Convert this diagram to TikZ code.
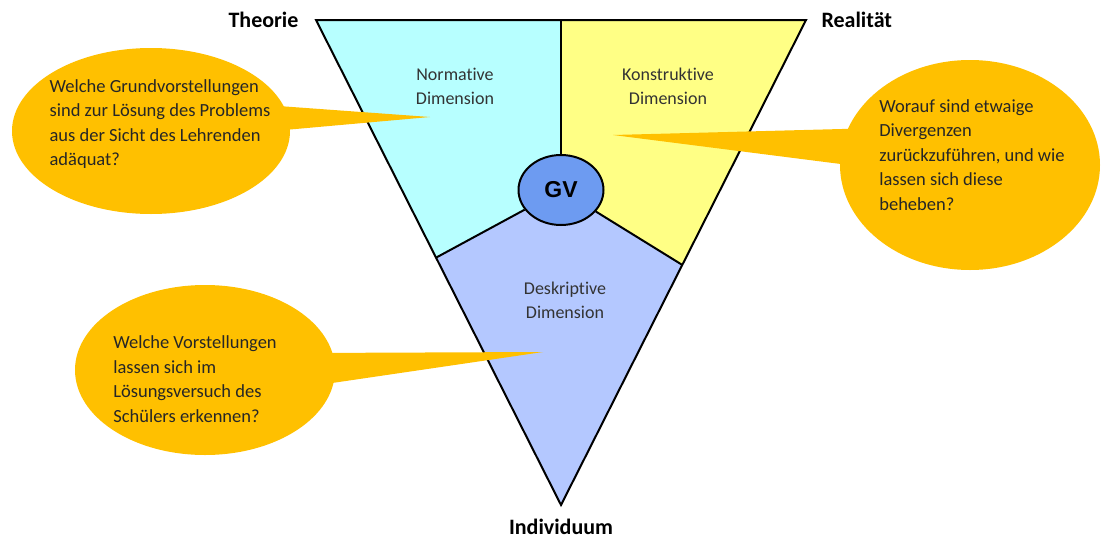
\documentclass[tikz,border=0pt]{standalone}
\usepackage{fontspec}
\setmainfont{Carlito}[Ligatures=NoCommon]
\newfontfamily\gvfont{Liberation Sans}
\usetikzlibrary{positioning,calc,shapes.geometric}
\definecolor{normcyan}{HTML}{B7FFFF}
\definecolor{konsyellow}{HTML}{FFFF85}
\definecolor{deskblue}{HTML}{B4C8FF}
\definecolor{gvblue}{HTML}{6D9BF1}
\definecolor{bubbleorange}{HTML}{FFC000}

\begin{document}
\begin{tikzpicture}[x=1pt, y=-1pt,
  border/.style={draw=black, line width=2pt, line join=miter},
  bubble/.style={ellipse, fill=bubbleorange, inner sep=0pt},
  bubbletext/.style={align=left, font=\fontsize{18.5}{24.5}\selectfont, text=black!85},
  dimtext/.style={align=center, font=\fontsize{18}{24}\selectfont, text=black!80},
  pole/.style={font=\fontsize{22}{26}\selectfont\bfseries},
  core/.style={ellipse, border, fill=gvblue, minimum width=85pt, minimum height=70pt,
    font=\gvfont\fontsize{23}{26}\selectfont\bfseries}
]
\useasboundingbox (0,0) rectangle (1106,541);

% corners of the triangle
\coordinate (tl) at (316,20);
\coordinate (tr) at (806,20);
\coordinate (bot) at (561,505);
\coordinate (tm) at ($(tl)!0.5!(tr)$);
\coordinate (lp) at ($(tl)!0.49!(bot)$);
\coordinate (rp) at ($(tr)!0.505!(bot)$);
\coordinate (mid) at (561,190);

% the three dimensions
\fill[normcyan] (tl) -- (tm) -- (mid) -- (lp) -- cycle;
\fill[konsyellow] (tm) -- (tr) -- (rp) -- (mid) -- cycle;
\fill[deskblue] (lp) -- (mid) -- (rp) -- (bot) -- cycle;

\node[core] (gv) at (mid) {GV};
\draw[border] (gv) -- (tm);
\draw[border] (gv) -- (lp);
\draw[border] (gv) -- (rp);
\draw[border] (tl) -- (tr) -- (bot) -- cycle;

\node[dimtext] (norm) at (455,86) {Normative\\Dimension};
\node[dimtext] (kons) at (668,86) {Konstruktive\\Dimension};
\node[dimtext] (desk) at (565,300) {Deskriptive\\Dimension};

\node[pole, left=14pt of tl] (theorie) {Theorie};
\node[pole, right=12pt of tr] (realitaet) {Realität};
\node[pole, below=11pt of bot] (indiv) {Individuum};

% speech bubbles
\coordinate (normtip) at (430,117);
\coordinate (konstip) at (613,135);
\coordinate (desktip) at (543,352);

\node[bubble, minimum width=278pt, minimum height=166pt] (qnorm) at (151,131) {};
\fill[bubbleorange] ($(qnorm.center)+(100,-27)$) -- (normtip) -- ($(qnorm.center)+(100,2)$) -- cycle;
\node[bubbletext] at (160,124) {Welche Grundvorstellungen\\sind zur Lösung des Problems\\aus der Sicht des Lehrenden\\adäquat?};

\node[bubble, minimum width=260pt, minimum height=210pt] (qkons) at (970,165) {};
\fill[bubbleorange] ($(qkons.center)+(-90,-37)$) -- (konstip) -- ($(qkons.center)+(-90,4)$) -- cycle;
\node[bubbletext] at (972,155) {Worauf sind etwaige\\Divergenzen\\zurückzuführen, und wie\\lassen sich diese\\beheben?};

\node[bubble, minimum width=260pt, minimum height=170pt] (qdesk) at (205,370) {};
\fill[bubbleorange] ($(qdesk.center)+(100,-17)$) -- (desktip) -- ($(qdesk.center)+(100,17)$) -- cycle;
\node[bubbletext] at (195,379) {Welche Vorstellungen\\lassen sich im\\Lösungsversuch des\\Schülers erkennen?};
\end{tikzpicture}
\end{document}
